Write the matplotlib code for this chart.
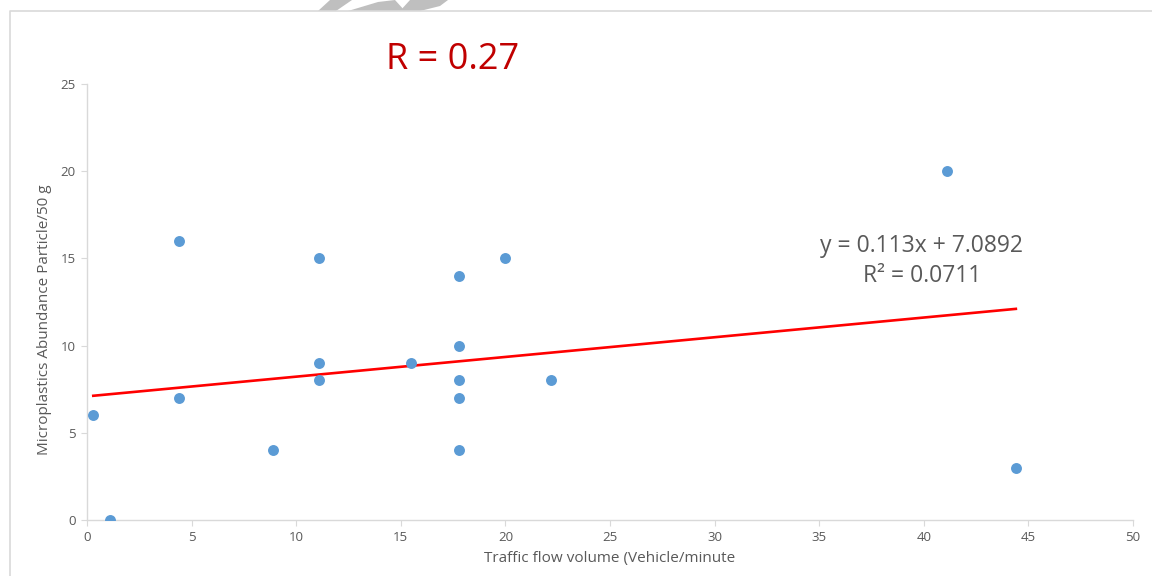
import matplotlib.pyplot as plt
from matplotlib.lines import Line2D
from matplotlib.patches import Polygon

plt.rcParams['font.family'] = ['Open Sans', 'DejaVu Sans']

# traffic flow (vehicle/minute) vs microplastics abundance (particle/50 g)
traffic = [0.3, 1.1, 4.4, 4.4, 8.9, 11.1, 11.1, 11.1, 15.5, 17.8, 17.8, 17.8, 17.8, 17.8, 20.0, 22.2, 41.1, 44.4]
abundance = [6, 0, 16, 7, 4, 15, 9, 8, 9, 14, 10, 8, 7, 4, 15, 8, 20, 3]

# linear trend shown on the chart
slope = 0.113
intercept = 7.0892
r_squared = 0.0711
r_value = 0.27

xticks = [0, 5, 10, 15, 20, 25, 30, 35, 40, 45, 50]
yticks = [0, 5, 10, 15, 20, 25]

grey = '#595959'
axis_col = '#D9D9D9'

fig = plt.figure(figsize=(11.52, 5.76), dpi=100)
ax = fig.add_axes([87 / 1152, 1 - 520 / 576, 1046 / 1152, 436 / 576])

ax.scatter(traffic, abundance, s=62, color='#5B9BD5', zorder=3, linewidths=0)

x0, x1 = min(traffic), max(traffic)
ax.plot([x0, x1], [slope * x0 + intercept, slope * x1 + intercept],
        color='#FF0000', lw=1.9, zorder=2)

ax.set_xlim(0, 50)
ax.set_ylim(0, 25)
ax.set_xticks(xticks)
ax.set_yticks(yticks)
for s in ['top', 'right']:
    ax.spines[s].set_visible(False)
for s in ['left', 'bottom']:
    ax.spines[s].set_color(axis_col)
    ax.spines[s].set_linewidth(1)
ax.tick_params(colors=grey, labelsize=9.5, length=4, width=0.8, pad=4)
ax.tick_params(axis='both', color=axis_col)

ax.set_xlabel('Traffic flow volume (Vehicle/minute', fontsize=11, color=grey, labelpad=5)
ax.set_ylabel('Microplastics Abundance Particle/50 g', fontsize=11, color=grey)
ax.yaxis.set_label_coords(-0.033, 0.46)

fig.text(453 / 1152, 1 - 60 / 576, 'R = %.2f' % r_value, fontsize=26, color='#C00000',
         ha='center', va='center')
fig.text(922 / 1152, 1 - 261 / 576,
         'y = %.3fx + %.4f\nR² = %.4f' % (slope, intercept, r_squared),
         fontsize=16.5, color=grey, ha='center', va='center', linespacing=1.3)

# chart frame (top and left edges visible)
fig.add_artist(Line2D([10 / 1152, 10 / 1152, 1], [0, 1 - 11 / 576, 1 - 11 / 576],
                      color='#D9D9D9', lw=1.2))

# partial watermark above the frame
wm = '#BFBFBF'
fig.add_artist(Polygon([(318 / 1152, 1 - 11 / 576), (330 / 1152, 1), (352 / 1152, 1),
                        (336 / 1152, 1 - 11 / 576)], closed=True, color=wm, lw=0))
fig.add_artist(Polygon([(348 / 1152, 1 - 11 / 576), (378 / 1152, 1 - 2 / 576),
                        (395 / 1152, 1), (405 / 1152, 1 - 11 / 576)], closed=True, color=wm, lw=0))
fig.add_artist(Polygon([(400 / 1152, 1 - 11 / 576), (410 / 1152, 1), (448 / 1152, 1),
                        (440 / 1152, 1 - 6 / 576), (420 / 1152, 1 - 11 / 576)], closed=True, color=wm, lw=0))

fig.savefig('out.png', dpi=100)
